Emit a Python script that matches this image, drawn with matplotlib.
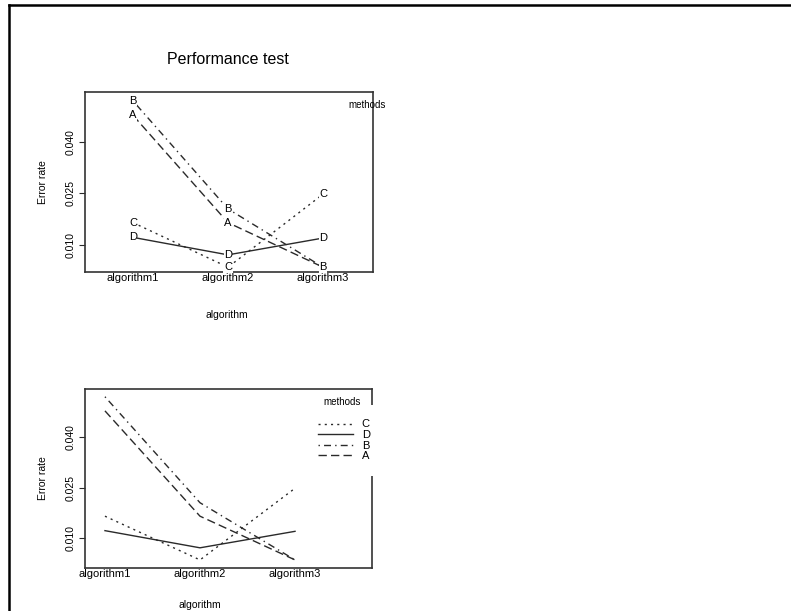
import matplotlib
matplotlib.use("Agg")
import matplotlib.pyplot as plt
from matplotlib.lines import Line2D

plt.rcParams['font.family'] = ['Liberation Sans', 'DejaVu Sans']

# data
algorithms = ['algorithm1', 'algorithm2', 'algorithm3']
methods = ['A', 'B', 'C', 'D']
error = {
    'A': [0.0478, 0.0165, 0.0035],
    'B': [0.0520, 0.0205, 0.0035],
    'C': [0.0165, 0.0035, 0.0248],
    'D': [0.0122, 0.0071, 0.0120],
}
legend_order = ['C', 'D', 'B', 'A']
yticks = [0.010, 0.025, 0.040]

styles = {
    'A': (0, (6, 3)),
    'B': (0, (1, 3, 5, 3)),
    'C': (0, (1.5, 3)),
    'D': '-',
}
col = '#2a2a2a'

W, H = 791, 611
fig = plt.figure(figsize=(W / 100, H / 100), dpi=100)


def px_axes(l, t, r, b):
    return fig.add_axes([l / W, 1 - b / H, (r - l) / W, (b - t) / H])


def style_axes(ax, xlim, ylim, ylab_x):
    ax.set_xlim(*xlim)
    ax.set_ylim(*ylim)
    ax.set_xticks([1, 2, 3])
    ax.set_xticklabels(algorithms, fontsize=8)
    ax.tick_params(axis='x', length=0, pad=0.5)
    ax.set_yticks(yticks)
    ax.set_yticklabels(['%.3f' % v for v in yticks], rotation=90,
                       va='center', fontsize=7.5)
    ax.tick_params(axis='y', length=4, width=0.8, pad=3, color=col)
    for s in ax.spines.values():
        s.set_linewidth(1.2)
        s.set_color('#333333')
    ax.set_ylabel('Error rate', fontsize=7.5)
    ax.yaxis.set_label_coords(ylab_x, 0.5)


x = [1, 2, 3]

# top panel: lines with letters at the points
ax1 = px_axes(85, 92, 373, 272)
for m in methods:
    ax1.plot(x, error[m], color=col, lw=1, ls=styles[m])
    for xi, yi in zip(x, error[m]):
        ax1.text(xi, yi, m, ha='center', va='center', fontsize=8,
                 bbox=dict(facecolor='white', edgecolor='none', pad=0.3),
                 zorder=4)
style_axes(ax1, (0.495, 3.526), (0.0021, 0.0546), -0.13)
ax1.text(0.98, 0.93, 'methods', transform=ax1.transAxes, fontsize=7,
         ha='center', va='center')
fig.text(228 / W, 1 - 60 / H, 'Performance test', ha='center', va='center',
         fontsize=11.5)
fig.text(227 / W, 1 - 315 / H, 'algorithm', ha='center', va='center',
         fontsize=7.5)

# bottom panel: plain lines with a legend
ax2 = px_axes(85, 389, 372, 568)
handles = {}
for m in methods:
    handles[m], = ax2.plot(x, error[m], color=col, lw=1, ls=styles[m])
style_axes(ax2, (0.79, 3.81), (0.0011, 0.0543), -0.13)
ax2.text(0.895, 0.925, 'methods', transform=ax2.transAxes, fontsize=7,
         ha='center', va='center')
leg = ax2.legend([handles[m] for m in legend_order], legend_order,
                 loc='upper left', bbox_to_anchor=(304 / W, 1 - 405 / H),
                 bbox_transform=fig.transFigure, fontsize=8, frameon=True,
                 facecolor='white', edgecolor='white', framealpha=1,
                 handlelength=3.1, handletextpad=0.8, labelspacing=0.05,
                 borderpad=1.3, borderaxespad=0, fancybox=False)
leg.get_frame().set_linewidth(0)
leg.set_zorder(5)
fig.text(200 / W, 1 - 600 / H, 'algorithm', ha='center', va='top',
         fontsize=7.5)

# screenshot frame (left and top edges)
fig.add_artist(Line2D([8.5 / W, 8.5 / W], [0, 1 - 4.5 / H],
                      transform=fig.transFigure, color='black', lw=1.8))
fig.add_artist(Line2D([8.5 / W, 1], [1 - 4.5 / H, 1 - 4.5 / H],
                      transform=fig.transFigure, color='black', lw=1.8))

fig.savefig('out.png', dpi=100, facecolor='white')
